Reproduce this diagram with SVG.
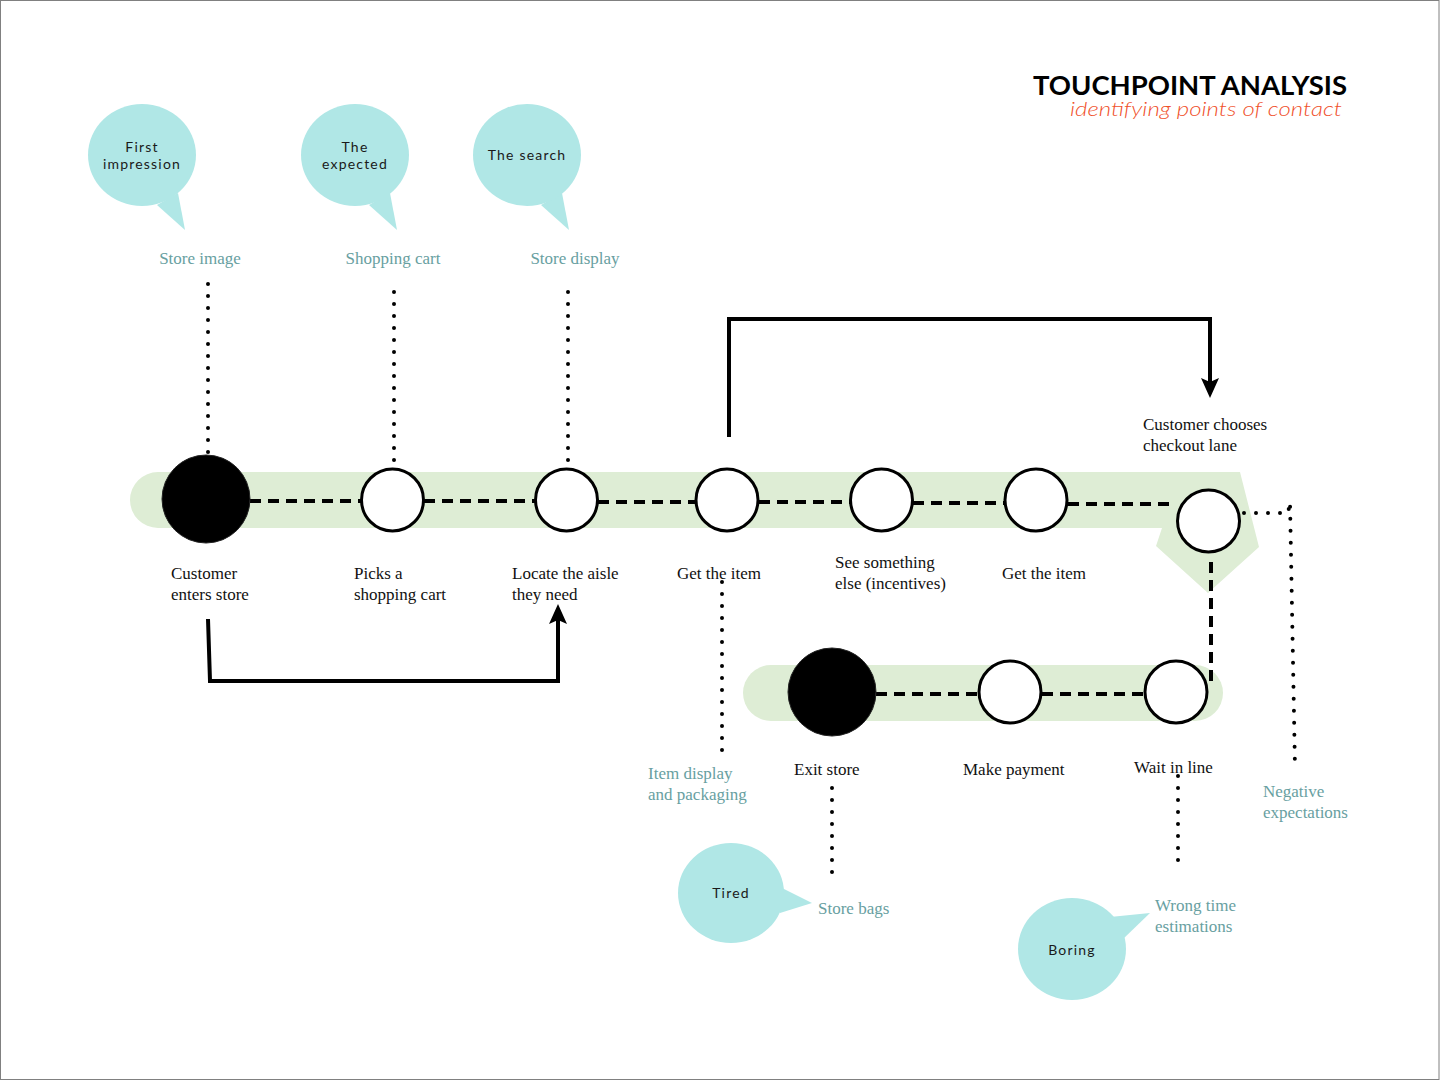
<svg xmlns="http://www.w3.org/2000/svg" width="1440" height="1081" viewBox="0 0 1440 1081">
<defs>
<style>
.band{fill:#deedd5}
.bub{fill:#b0e7e6}
.bt{font-family:Lato,"Noto Sans",sans-serif;font-size:14px;letter-spacing:1.2px;fill:#1a1a1a;text-anchor:middle}
.lbl{font-family:"Liberation Serif","DejaVu Serif",serif;font-size:17px;fill:#111}
.tp{font-family:"Liberation Serif","DejaVu Serif",serif;font-size:17px;fill:#68a0a1}
.open{fill:#fff;stroke:#000;stroke-width:3}
.full{fill:#000;stroke:#222;stroke-width:1}
.dash{fill:none;stroke:#000;stroke-width:4;stroke-dasharray:11 7}
.dot{fill:none;stroke:#000;stroke-width:4;stroke-linecap:round;stroke-dasharray:0 12}
.arr{fill:none;stroke:#000;stroke-width:4}
</style>
<marker id="ah" markerUnits="userSpaceOnUse" markerWidth="20" markerHeight="18" viewBox="0 0 20 18" refX="10" refY="9" orient="auto">
<path d="M0,0 L20,9 L0,18 L4,9 Z" fill="#000"/>
</marker>
</defs>
<rect x="0.5" y="0.5" width="1438.5" height="1079" fill="#fff" stroke="#808080" stroke-width="1"/>

<g id="title">
<text x="1347" y="95" text-anchor="end" font-family="Lato,'Open Sans',sans-serif" font-weight="700" font-size="26" textLength="314" lengthAdjust="spacingAndGlyphs" fill="#000">TOUCHPOINT ANALYSIS</text>
<text x="1342" y="116" text-anchor="end" font-family="Lato,'Open Sans',sans-serif" font-style="italic" font-weight="300" font-size="20" textLength="272" lengthAdjust="spacingAndGlyphs" fill="#f0502a">identifying points of contact</text>
</g>

<g id="bands">
<path class="band" d="M158,472 H1240 L1259,547 L1208,593 L1156,546 L1162,528 H158 A28,28 0 0 1 158,472 Z"/>
<rect class="band" x="743" y="665" width="480" height="56" rx="28"/>
</g>

<g id="connectors">
<path class="dash" d="M250,501 H361"/>
<path class="dash" d="M424,501 H535"/>
<path class="dash" d="M598,502 H695"/>
<path class="dash" d="M759,502 H850"/>
<path class="dash" d="M913,503 H1004"/>
<path class="dash" d="M1068,504 H1170"/>
<path class="dash" d="M1211,562 V686"/>
<path class="dash" d="M876,694 H978"/>
<path class="dash" d="M1042,694 H1144"/>
<path class="dot" d="M208,452 V272"/>
<path class="dot" d="M394,460 V282"/>
<path class="dot" d="M568,460 V282"/>
<path class="dot" d="M722,582 V760"/>
<path class="dot" d="M832,788 V876"/>
<path class="dot" d="M1178,776 V866"/>
<path class="dot" d="M1232,513 H1288 L1290,502 L1295,768"/>
<path class="arr" d="M729,437 V319 H1210 V388" marker-end="url(#ah)"/>
<path class="arr" d="M208,619 L210,681 H558 V614" marker-end="url(#ah)"/>
</g>

<g id="bubble-first">
<path class="bub" d="M178,193 L185,230 L157,205 Z"/>
<ellipse class="bub" cx="142" cy="155" rx="54" ry="51"/>
<text class="bt" x="142" y="152">First</text>
<text class="bt" x="142" y="169">impression</text>
</g>
<g id="bubble-expected">
<path class="bub" d="M390,193 L397,230 L369,205 Z"/>
<ellipse class="bub" cx="355" cy="155" rx="54" ry="51"/>
<text class="bt" x="355" y="152">The</text>
<text class="bt" x="355" y="169">expected</text>
</g>
<g id="bubble-search">
<path class="bub" d="M562,193 L569,230 L541,205 Z"/>
<ellipse class="bub" cx="527" cy="155" rx="54" ry="51"/>
<text class="bt" x="527" y="160">The search</text>
</g>
<g id="bubble-tired">
<path class="bub" d="M780,887 L812,903 L780,913 Z"/>
<ellipse class="bub" cx="731" cy="893" rx="53" ry="50"/>
<text class="bt" x="731" y="898">Tired</text>
</g>
<g id="bubble-boring">
<path class="bub" d="M1110,917 L1150,913 L1122,940 Z"/>
<ellipse class="bub" cx="1072" cy="949" rx="54" ry="51"/>
<text class="bt" x="1072" y="955">Boring</text>
</g>

<g id="tp-store-image"><text class="tp" x="200" y="264" text-anchor="middle">Store image</text></g>
<g id="tp-shopping-cart"><text class="tp" x="393" y="264" text-anchor="middle">Shopping cart</text></g>
<g id="tp-store-display"><text class="tp" x="575" y="264" text-anchor="middle">Store display</text></g>
<g id="tp-item-display"><text class="tp" x="648" y="779">Item display</text><text class="tp" x="648" y="800">and packaging</text></g>
<g id="tp-store-bags"><text class="tp" x="818" y="914">Store bags</text></g>
<g id="tp-wrong-time"><text class="tp" x="1155" y="911">Wrong time</text><text class="tp" x="1155" y="932">estimations</text></g>
<g id="tp-negative"><text class="tp" x="1263" y="797">Negative</text><text class="tp" x="1263" y="818">expectations</text></g>

<g id="node-enter">
<circle class="full" cx="206" cy="499" r="44"/>
<text class="lbl" x="171" y="579">Customer</text>
<text class="lbl" x="171" y="600">enters store</text>
</g>
<g id="node-cart">
<circle class="open" cx="392.5" cy="500" r="31"/>
<text class="lbl" x="354" y="579">Picks a</text>
<text class="lbl" x="354" y="600">shopping cart</text>
</g>
<g id="node-aisle">
<circle class="open" cx="566.5" cy="500" r="31"/>
<text class="lbl" x="512" y="579">Locate the aisle</text>
<text class="lbl" x="512" y="600">they need</text>
</g>
<g id="node-get1">
<circle class="open" cx="727" cy="500" r="31"/>
<text class="lbl" x="677" y="579">Get the item</text>
</g>
<g id="node-see">
<circle class="open" cx="881.5" cy="500" r="31"/>
<text class="lbl" x="835" y="568">See something</text>
<text class="lbl" x="835" y="589">else (incentives)</text>
</g>
<g id="node-get2">
<circle class="open" cx="1036" cy="500" r="31"/>
<text class="lbl" x="1002" y="579">Get the item</text>
</g>
<g id="node-checkout">
<circle class="open" cx="1208.5" cy="521" r="31"/>
<text class="lbl" x="1143" y="430">Customer chooses</text>
<text class="lbl" x="1143" y="451">checkout lane</text>
</g>
<g id="node-exit">
<circle class="full" cx="832" cy="692" r="44"/>
<text class="lbl" x="794" y="775">Exit store</text>
</g>
<g id="node-payment">
<circle class="open" cx="1010" cy="692" r="31"/>
<text class="lbl" x="963" y="775">Make payment</text>
</g>
<g id="node-wait">
<circle class="open" cx="1176" cy="692" r="31"/>
<text class="lbl" x="1134" y="773">Wait in line</text>
</g>
</svg>
